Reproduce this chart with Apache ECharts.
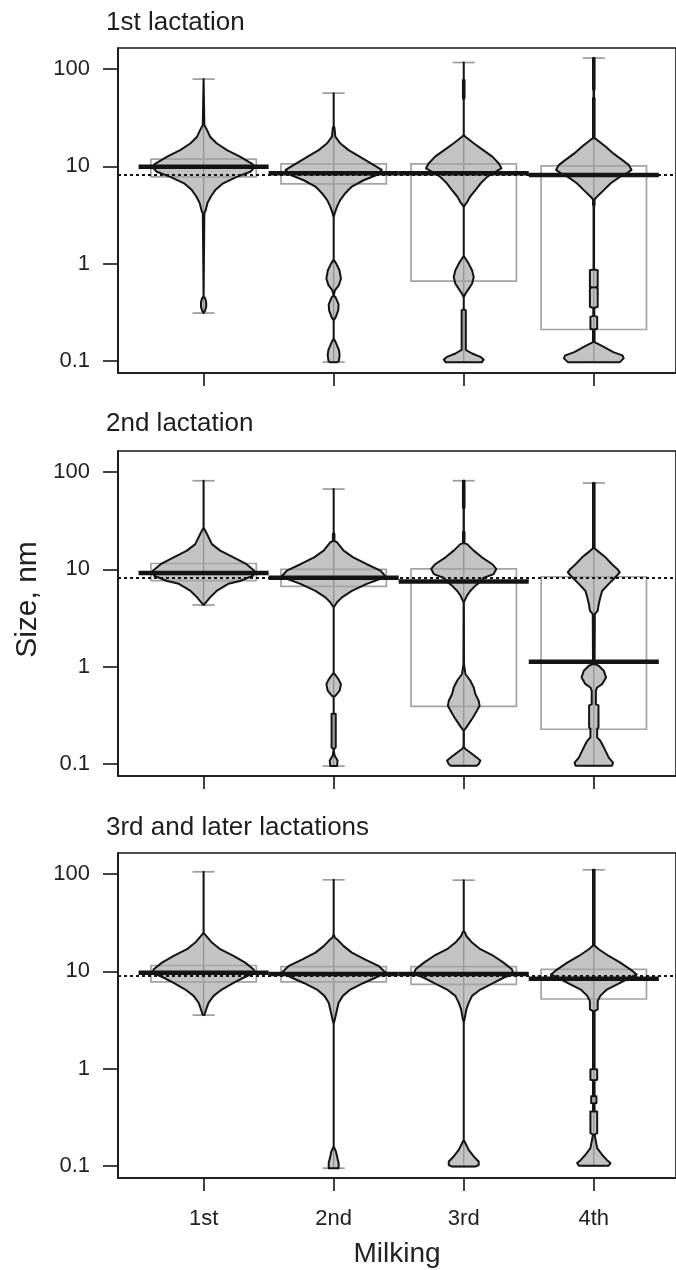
<!DOCTYPE html>
<html><head><meta charset="utf-8">
<script src="https://cdn.jsdelivr.net/npm/echarts@6/dist/echarts.min.js"></script>
<style>html,body{margin:0;padding:0;background:#fff}#c{width:676px;height:1270px}</style>
</head><body><div id="c"></div>
<script>
// ---------- data ----------
const panelTitles = ['1st lactation', '2nd lactation', '3rd and later lactations'];
const milkingLabels = ['1st', '2nd', '3rd', '4th'];
const milkingPositions = [1, 2, 3, 4];
const yTickValues = [0.1, 1, 10, 100];
const yTickLabels = ['0.1', '1', '10', '100'];
const yAxisName = 'Size, nm';
const xAxisName = 'Milking';

// violin profiles: [size nm, half width in milking units], top to bottom
const p1m1 = [[79,0],[26.7,0.006],[23.7,0.026],[20.2,0.05],[17.3,0.10],[14.7,0.18],[12.6,0.28],[10.7,0.37],[9.9,0.395],[8.8,0.36],[7.8,0.255],[6.7,0.15],[5.7,0.09],[4.9,0.056],[4.2,0.03],[3.5,0.015],[3.3,0.006],[0.46,0],[0.44,0.012],[0.40,0.02],[0.36,0.02],[0.33,0.012],[0.31,0]];
const p1m2 = [[56.6,0],[26,0],[25,0.006],[20.2,0.013],[17.3,0.05],[14.7,0.115],[12.6,0.2],[10.7,0.29],[9.2,0.37],[8.15,0.33],[7.2,0.23],[6.2,0.14],[5.3,0.09],[4.5,0.05],[3.85,0.026],[3.3,0.008],[3.0,0],[1.1,0],[1.0,0.02],[0.85,0.045],[0.70,0.056],[0.6,0.04],[0.53,0.01],[0.47,0],[0.45,0.015],[0.38,0.038],[0.33,0.035],[0.28,0.015],[0.26,0],[0.17,0],[0.156,0.015],[0.13,0.04],[0.115,0.046],[0.1,0.04],[0.097,0.03]];
const p1m3 = [[117,0],[78,0],[77,0.006],[50,0.006],[49,0],[21,0],[20.2,0.013],[17.3,0.077],[14.7,0.15],[12.6,0.22],[10.7,0.27],[9.55,0.29],[8.6,0.23],[7.8,0.18],[6.7,0.13],[5.7,0.09],[4.9,0.05],[4.3,0.026],[4.0,0.008],[3.8,0],[1.2,0],[1.13,0.013],[1.0,0.038],[0.855,0.064],[0.73,0.077],[0.62,0.064],[0.55,0.038],[0.49,0.013],[0.45,0],[0.34,0],[0.33,0.016],[0.13,0.016],[0.119,0.064],[0.11,0.128],[0.103,0.153],[0.097,0.14]];
const p1m4 = [[130,0.006],[62,0.006],[60,0.002],[52,0.002],[50,0.006],[19.5,0.006],[18.7,0.026],[16,0.09],[13.6,0.15],[11.6,0.22],[10.3,0.27],[9.2,0.29],[8.5,0.255],[7.8,0.2],[6.7,0.13],[5.7,0.077],[4.9,0.026],[4.57,0.006],[4.0,0.006],[3.9,0.002],[0.87,0.002],[0.855,0.03],[0.58,0.03],[0.57,0.006],[0.56,0.03],[0.36,0.03],[0.35,0.004],[0.29,0.004],[0.283,0.026],[0.214,0.026],[0.21,0.006],[0.156,0.006],[0.139,0.077],[0.123,0.15],[0.114,0.22],[0.106,0.23],[0.097,0.2]];

const p2m1 = [[81.6,0],[27,0],[26,0.006],[23.1,0.026],[18.2,0.064],[15.6,0.128],[13.3,0.23],[11.3,0.33],[9.7,0.39],[8.6,0.38],[7.6,0.28],[7.1,0.19],[6.0,0.10],[5.15,0.05],[4.6,0.02],[4.3,0]];
const p2m2 = [[67,0],[24,0],[23,0.006],[19.5,0.006],[19.0,0.026],[15.6,0.077],[13.3,0.15],[11.3,0.255],[9.7,0.36],[8.6,0.395],[8.0,0.36],[7.1,0.255],[6.0,0.14],[5.15,0.064],[4.6,0.026],[4.06,0],[0.86,0],[0.84,0.008],[0.74,0.038],[0.66,0.056],[0.565,0.046],[0.5,0.013],[0.49,0],[0.33,0],[0.325,0.016],[0.148,0.016],[0.14,0],[0.121,0.008],[0.108,0.03],[0.095,0.026]];
const p2m3 = [[81.6,0.006],[43,0.006],[42,0.001],[25,0.001],[24,0.006],[18.5,0.006],[18.2,0.026],[15.6,0.077],[13.3,0.14],[11.3,0.22],[10.1,0.25],[8.95,0.23],[8.15,0.15],[7.5,0.13],[6.8,0.09],[6.0,0.05],[5.4,0.026],[4.8,0.008],[4.6,0.001],[1.06,0.002],[0.84,0.013],[0.72,0.05],[0.61,0.077],[0.52,0.09],[0.445,0.115],[0.395,0.122],[0.35,0.10],[0.30,0.071],[0.267,0.046],[0.237,0.02],[0.219,0.001],[0.15,0.001],[0.142,0.013],[0.131,0.05],[0.116,0.10],[0.108,0.128],[0.0994,0.115],[0.0955,0.10]];
const p2m4 = [[77.3,0.006],[16.5,0.006],[15.6,0.026],[13.3,0.09],[11.3,0.14],[10.1,0.18],[9.3,0.2],[8.3,0.166],[7.1,0.115],[6.0,0.064],[5.15,0.05],[4.4,0.038],[3.76,0.03],[3.47,0.008],[1.06,0.006],[1.02,0.038],[0.905,0.077],[0.774,0.094],[0.66,0.064],[0.61,0.026],[0.565,0.016],[0.41,0.016],[0.40,0.036],[0.237,0.036],[0.23,0.026],[0.187,0.026],[0.173,0.05],[0.16,0.064],[0.136,0.09],[0.116,0.115],[0.103,0.148],[0.0955,0.14]];

const p3m1 = [[105.7,0],[25,0],[24,0.01],[19.8,0.064],[16.9,0.128],[14.4,0.23],[12.3,0.32],[10.5,0.383],[9.7,0.395],[8.6,0.306],[7.6,0.23],[6.5,0.14],[5.6,0.077],[4.75,0.038],[4.06,0.02],[3.6,0.008],[3.55,0]];
const p3m2 = [[87.4,0],[24,0],[23,0.006],[22.2,0.01],[21.4,0.026],[18.2,0.077],[15.6,0.14],[13.3,0.24],[11.4,0.344],[9.7,0.4],[8.6,0.32],[7.6,0.23],[6.5,0.128],[5.6,0.071],[4.75,0.038],[4.06,0.026],[3.08,0.006],[2.9,0],[0.158,0],[0.14,0.018],[0.125,0.026],[0.107,0.038],[0.0946,0.038]];
const p3m3 = [[86.7,0],[26,0],[25,0.01],[23.1,0.02],[19.8,0.064],[16.9,0.128],[14.4,0.23],[12.3,0.306],[10.5,0.37],[9.5,0.383],[8.6,0.306],[7.6,0.23],[6.5,0.128],[5.6,0.064],[4.75,0.038],[4.06,0.02],[3.2,0.006],[3.0,0],[0.185,0],[0.171,0.013],[0.146,0.038],[0.125,0.077],[0.111,0.115],[0.102,0.115],[0.0984,0.09]];
const p3m4 = [[110.8,0.006],[18.5,0.006],[16.9,0.038],[14.4,0.115],[12.3,0.204],[10.5,0.28],[9.3,0.33],[8.3,0.255],[7.35,0.18],[6.5,0.10],[5.6,0.05],[4.95,0.03],[4.06,0.03],[3.9,0.006],[0.99,0.006],[0.977,0.026],[0.77,0.026],[0.76,0.006],[0.52,0.006],[0.519,0.02],[0.443,0.02],[0.44,0.006],[0.363,0.006],[0.362,0.026],[0.217,0.026],[0.21,0.006],[0.152,0.026],[0.13,0.064],[0.115,0.10],[0.107,0.128],[0.1,0.115]];

// medians (thick black lines)
const medians1 = [9.9, 8.5, 8.5, 8.15];
const medians2 = [9.2, 8.2, 7.5, 1.12];
const medians3 = [9.7, 9.4, 9.4, 8.4];
// interquartile boxes
const boxLow1 = [7.8, 6.6, 0.66, 0.21];
const boxHigh1 = [11.9, 10.6, 10.6, 10.1];
const boxLow2 = [7.65, 6.7, 0.39, 0.227];
const boxHigh2 = [11.5, 10.0, 10.1, 8.4];
const boxLow3 = [7.8, 7.8, 7.35, 5.2];
const boxHigh3 = [11.5, 11.2, 11.2, 10.5];
// whisker caps
const capTop1 = [79, 56.6, 117, 130];
const capBot1 = [0.31, 0.097, 0.097, 0.097];
const capTop2 = [81.6, 67, 81.6, 77.3];
const capBot2 = [4.3, 0.095, 0.0955, 0.0955];
const capTop3 = [105.7, 87.4, 86.7, 110.8];
const capBot3 = [3.55, 0.0946, 0.0984, 0.1];
// dotted reference line per panel
const refLine = [8.3, 8.15, 9.1];

// ---------- layout / style ----------
const FONT = "'Liberation Sans', Arial, sans-serif";
const gridTops = [48, 451, 853];
const titleTops = [10, 411, 815];
const GRID_H = 325, GRID_LEFT = 118, GRID_W = 559;
const BOX_HW = 0.405, CAP_HW = 0.085, MED_HW = 0.5;
const INK = '#141414';

const panels = [
  {profiles:[p1m1,p1m2,p1m3,p1m4], med:medians1, lo:boxLow1, hi:boxHigh1, ct:capTop1, cb:capBot1},
  {profiles:[p2m1,p2m2,p2m3,p2m4], med:medians2, lo:boxLow2, hi:boxHigh2, ct:capTop2, cb:capBot2},
  {profiles:[p3m1,p3m2,p3m3,p3m4], med:medians3, lo:boxLow3, hi:boxHigh3, ct:capTop3, cb:capBot3}
];

function makeRender(p) {
  return function (params, api) {
    const i = params.dataIndex;
    const x = api.value(0);
    const med = api.value(1);
    const prof = p.profiles[i];
    const right = prof.map(d => api.coord([x + d[1], d[0]]));
    const left = prof.slice().reverse().map(d => api.coord([x - d[1], d[0]]));
    const pts = right.concat(left);
    const top = api.coord([x, p.ct[i]]), bot = api.coord([x, p.cb[i]]);
    const b1 = api.coord([x - BOX_HW, p.hi[i]]), b2 = api.coord([x + BOX_HW, p.lo[i]]);
    const ct1 = api.coord([x - CAP_HW, p.ct[i]]), ct2 = api.coord([x + CAP_HW, p.ct[i]]);
    const cb1 = api.coord([x - CAP_HW, p.cb[i]]), cb2 = api.coord([x + CAP_HW, p.cb[i]]);
    const m1 = api.coord([x - MED_HW, med]), m2 = api.coord([x + MED_HW, med]);
    return {
      type: 'group',
      children: [
        {type:'polygon', shape:{points:pts}, style:{fill:'#c3c3c3', stroke:'none'}},
        {type:'line', shape:{x1:top[0], y1:top[1], x2:bot[0], y2:bot[1]}, style:{stroke:'#939393', lineWidth:1.3}},
        {type:'rect', shape:{x:b1[0], y:b1[1], width:b2[0]-b1[0], height:b2[1]-b1[1]}, style:{fill:'none', stroke:'#a3a3a3', lineWidth:1.7}},
        {type:'line', shape:{x1:ct1[0], y1:ct1[1], x2:ct2[0], y2:ct2[1]}, style:{stroke:'#9c9c9c', lineWidth:1.7}},
        {type:'line', shape:{x1:cb1[0], y1:cb1[1], x2:cb2[0], y2:cb2[1]}, style:{stroke:'#9c9c9c', lineWidth:1.7}},
        {type:'polygon', shape:{points:pts}, style:{fill:'none', stroke:INK, lineWidth:2, lineJoin:'round'}},
        {type:'line', shape:{x1:m1[0], y1:m1[1], x2:m2[0], y2:m2[1]}, style:{stroke:INK, lineWidth:4.5}}
      ]
    };
  };
}

const grids = [], xAxes = [], yAxes = [], series = [], titles = [];
panels.forEach((p, k) => {
  grids.push({left:GRID_LEFT, top:gridTops[k], width:GRID_W, height:GRID_H, show:true, borderColor:INK, borderWidth:1.6, backgroundColor:'transparent'});
  titles.push({text:panelTitles[k], left:106, top:titleTops[k], padding:0,
    textStyle:{fontFamily:FONT, fontSize:26, fontWeight:'normal', color:'#1e1e1e'}});
  xAxes.push({
    gridIndex:k, type:'value', min:0.342, max:4.632,
    axisLine:{show:true, onZero:false, lineStyle:{color:INK, width:1.6}},
    splitLine:{show:false},
    axisTick:{show:true, inside:false, length:13, customValues:milkingPositions, lineStyle:{color:INK, width:1.6}},
    axisLabel:{show:k===2, customValues:milkingPositions, margin:30,
      formatter:v => milkingLabels[Math.round(v) - 1],
      fontFamily:FONT, fontSize:22, color:'#222'},
    name: k===2 ? xAxisName : '', nameLocation:'middle', nameGap:62,
    nameTextStyle:{fontFamily:FONT, fontSize:28, color:'#222'}
  });
  yAxes.push({
    gridIndex:k, type:'log', logBase:10, min:0.075, max:165,
    axisLine:{show:true, lineStyle:{color:INK, width:1.6}},
    splitLine:{show:false},
    axisTick:{show:true, inside:false, length:15, customValues:yTickValues, lineStyle:{color:INK, width:1.6}},
    axisLabel:{customValues:yTickValues, margin:28,
      formatter:v => { const j = yTickValues.findIndex(t => Math.abs(Math.log10(t) - Math.log10(v)) < 1e-6); return j >= 0 ? yTickLabels[j] : ''; },
      fontFamily:FONT, fontSize:22, color:'#222'},
    name: k===1 ? yAxisName : '', nameLocation:'middle', nameGap:74,
    nameTextStyle:{fontFamily:FONT, fontSize:30, color:'#222', padding:[0,0,0,28]}
  });
  series.push({
    type:'custom', xAxisIndex:k, yAxisIndex:k,
    data: milkingPositions.map((m, j) => [m, p.med[j]]),
    renderItem: makeRender(p),
    silent:true,
    markLine:{silent:true, symbol:['none','none'], label:{show:false},
      lineStyle:{color:INK, width:2, type:[3,3]},
      data:[{yAxis:refLine[k]}]}
  });
});

const chart = echarts.init(document.getElementById('c'), null, {renderer:'canvas'});
chart.setOption({
  animation:false,
  backgroundColor:'#fff',
  title:titles,
  grid:grids,
  xAxis:xAxes,
  yAxis:yAxes,
  series:series
});
</script>
</body></html>
